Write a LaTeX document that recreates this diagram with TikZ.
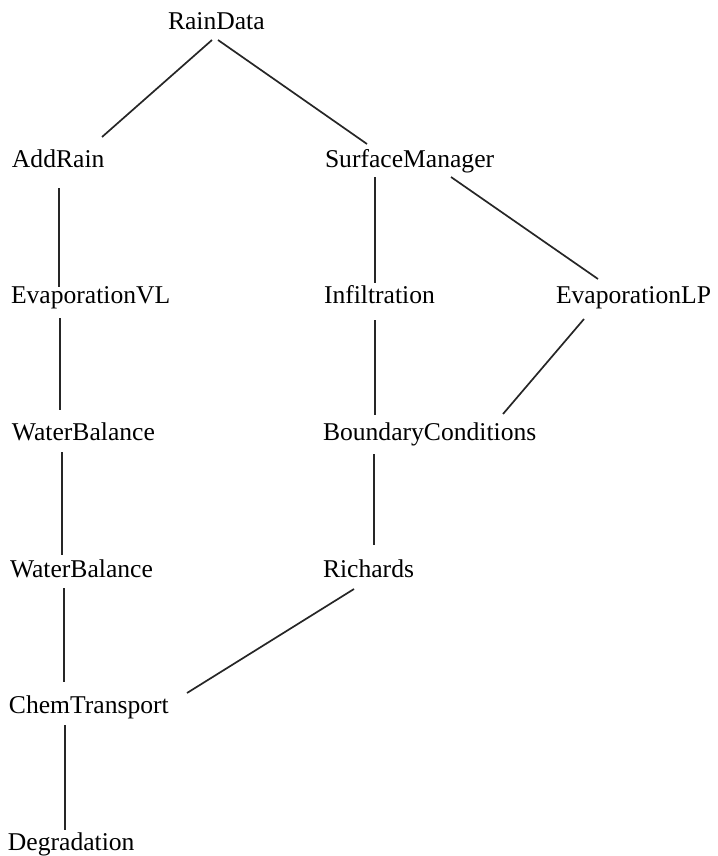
\documentclass[tikz,border=0pt]{standalone}
\usepackage{fontspec}
\setmainfont{Liberation Serif}
\begin{document}
\begin{tikzpicture}[x=1pt,y=-1pt,
  module/.style={anchor=base west,inner sep=0pt,outer sep=0pt,
    font=\fontsize{25.6}{30}\selectfont},
  link/.style={line width=1.7pt,black!85}]
\useasboundingbox (0,0) rectangle (717,856);
% module names, placed by the left end of their baseline
\node[module] (rain)  at (168,30)  {RainData};
\node[module] (add)   at (12,167)  {AddRain};
\node[module] (surf)  at (325,167) {SurfaceManager};
\node[module] (evl)   at (11,303)  {EvaporationVL};
\node[module] (inf)   at (324,303) {Infiltration};
\node[module] (elp)   at (556,303) {EvaporationLP};
\node[module] (wba)   at (12,440)  {WaterBalance};
\node[module] (bc)    at (323,440) {BoundaryConditions};
\node[module] (wbb)   at (10,577)  {WaterBalance};
\node[module] (rich)  at (323,577) {Richards};
\node[module] (chem)  at (9,713)   {ChemTransport};
\node[module] (deg)   at (8,850)   {Degradation};
% links between modules
\draw[link] ([shift={(44,10)}]rain.base west) -- ([shift={(90,-30)}]add.base west);
\draw[link] ([shift={(50,10)}]rain.base west) -- ([shift={(42,-23)}]surf.base west);
\draw[link] ([shift={(47,21)}]add.base west) -- ([shift={(48,-16)}]evl.base west);
\draw[link] ([shift={(49,15)}]evl.base west) -- ([shift={(48,-30)}]wba.base west);
\draw[link] ([shift={(50,12)}]wba.base west) -- ([shift={(52,-22)}]wbb.base west);
\draw[link] ([shift={(54,11)}]wbb.base west) -- ([shift={(55,-31)}]chem.base west);
\draw[link] ([shift={(56,12)}]chem.base west) -- ([shift={(57,-20)}]deg.base west);
\draw[link] ([shift={(50,10)}]surf.base west) -- ([shift={(51,-20)}]inf.base west);
\draw[link] ([shift={(126,10)}]surf.base west) -- ([shift={(42,-24)}]elp.base west);
\draw[link] ([shift={(51,17)}]inf.base west) -- ([shift={(52,-25)}]bc.base west);
\draw[link] ([shift={(28,16)}]elp.base west) -- ([shift={(180,-26)}]bc.base west);
\draw[link] ([shift={(51,14)}]bc.base west) -- ([shift={(51,-32)}]rich.base west);
\draw[link] ([shift={(31,12)}]rich.base west) -- ([shift={(178,-20)}]chem.base west);
\end{tikzpicture}
\end{document}
